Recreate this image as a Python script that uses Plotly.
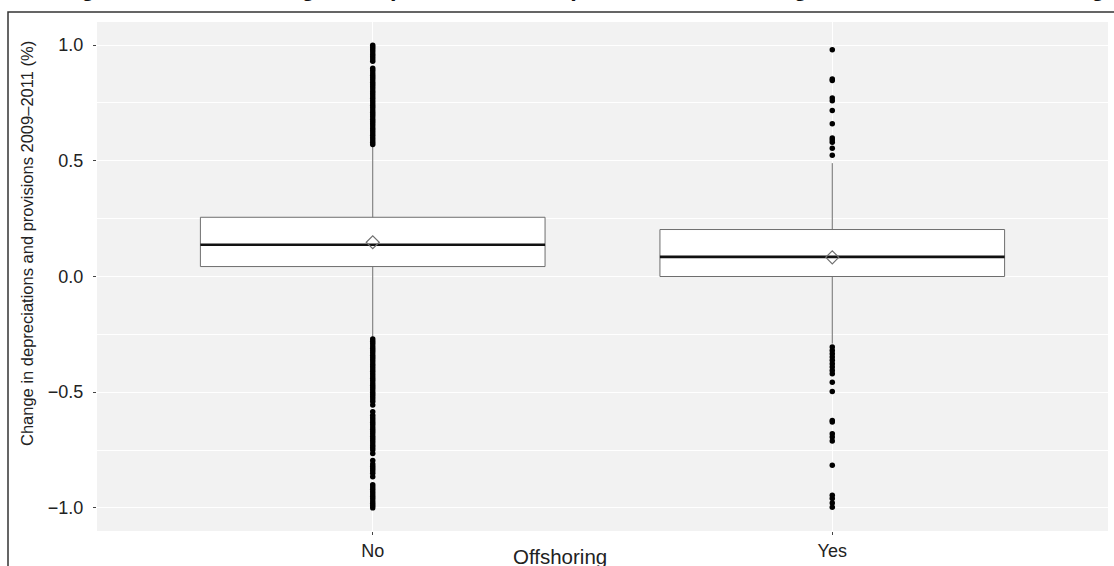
import plotly.graph_objects as go

# ---------------- data ----------------
categories = ["No", "Yes"]
positions = [1, 2]

q1_vals = [0.043, 0.000]
median_vals = [0.137, 0.085]
q3_vals = [0.256, 0.203]
lower_fence = [-0.265, -0.290]
upper_fence = [0.565, 0.490]
mean_vals = [0.148, 0.083]

no_outliers = [
    0.57, 0.58, 0.59, 0.60, 0.61, 0.62, 0.63, 0.64, 0.65, 0.66, 0.67, 0.68,
    0.69, 0.70, 0.71, 0.72, 0.73, 0.74, 0.75, 0.76, 0.77, 0.78, 0.79, 0.80,
    0.81, 0.82, 0.83, 0.84, 0.85, 0.86, 0.87, 0.88, 0.89, 0.90,
    0.93, 0.94, 0.95, 0.96, 0.97, 0.98, 0.99, 1.00,
    -0.27, -0.28, -0.29, -0.30, -0.31, -0.32, -0.33, -0.34, -0.35, -0.36,
    -0.37, -0.38, -0.39, -0.40, -0.41, -0.42, -0.43, -0.44, -0.45, -0.46,
    -0.47, -0.48, -0.49, -0.50, -0.51, -0.52, -0.53, -0.54, -0.555,
    -0.585, -0.60, -0.61, -0.62, -0.63, -0.64, -0.65, -0.66, -0.67, -0.68,
    -0.69, -0.70, -0.71, -0.72, -0.73, -0.74, -0.75, -0.765,
    -0.795, -0.81, -0.82, -0.83, -0.84, -0.85, -0.865,
    -0.90, -0.91, -0.92, -0.93, -0.94, -0.95, -0.96, -0.97, -0.98, -0.99, -1.00,
]

yes_outliers = [
    0.98, 0.854, 0.847, 0.772, 0.760, 0.717, 0.660, 0.599, 0.590, 0.580,
    0.554, 0.524,
    -0.305, -0.320, -0.334, -0.348, -0.362, -0.377, -0.391, -0.406, -0.420,
    -0.457, -0.497, -0.622, -0.629, -0.680, -0.694, -0.711, -0.816,
    -0.946, -0.960, -0.979, -0.997,
]

y_tickvals = [-1.0, -0.5, 0.0, 0.5, 1.0]
y_ticktext = ["\u22121.0", "\u22120.5", "0.0", "0.5", "1.0"]
y_minor = [-0.75, -0.25, 0.25, 0.75]

title_text = ("Figure 4.2: Total change in depreciations and provisions "
              "according to the status of offshoring")
x_title = "Offshoring"
y_title = "Change in depreciations and provisions 2009\u20132011 (%)"

# ---------------- styles ----------------
BOX_WIDTH = 0.75
FONT = "Liberation Sans, Arial, sans-serif"
W, H = 1114, 566
ML, MR, MT, MB = 97, 6, 22, 35
PW = W - ML - MR
PH = H - MT - MB


def px_x(p):
    return (p - ML) / PW


def px_y(p):
    return (H - MB - p) / PH


fig = go.Figure()

for pos, a, m, b, lo, hi in zip(positions, q1_vals, median_vals, q3_vals,
                                lower_fence, upper_fence):
    fig.add_trace(go.Box(
        x=[pos], q1=[a], median=[m], q3=[b], lowerfence=[lo], upperfence=[hi],
        width=BOX_WIDTH, whiskerwidth=0, boxpoints=False,
        fillcolor="white", line=dict(color="#6e6e6e", width=1),
        showlegend=False, hoverinfo="skip",
    ))
    # thick median
    fig.add_trace(go.Scatter(
        x=[pos - BOX_WIDTH / 2, pos + BOX_WIDTH / 2], y=[m, m],
        mode="lines", line=dict(color="#111111", width=2.6),
        showlegend=False, hoverinfo="skip",
    ))

# outliers
for pos, outs in zip(positions, [no_outliers, yes_outliers]):
    fig.add_trace(go.Scatter(
        x=[pos] * len(outs), y=outs, mode="markers",
        marker=dict(color="black", size=5.5, line=dict(width=0)),
        showlegend=False, hoverinfo="skip",
    ))

# means
fig.add_trace(go.Scatter(
    x=positions, y=mean_vals, mode="markers",
    marker=dict(symbol="diamond-open", size=10, color="#707070",
                line=dict(width=1.2)),
    showlegend=False, hoverinfo="skip",
))

fig.update_layout(
    width=W, height=H,
    margin=dict(l=ML, r=MR, t=MT, b=MB, pad=0),
    paper_bgcolor="white", plot_bgcolor="#F2F2F2",
    font=dict(family=FONT, size=18, color="#222222"),
    xaxis=dict(
        range=[0.4, 2.6], tickvals=positions, ticktext=categories,
        showgrid=True, gridcolor="white", gridwidth=1.2, zeroline=False,
        ticks="outside", ticklen=3, tickcolor="#444444", tickwidth=1,
        showline=False, tickfont=dict(size=18, color="#222222"),
    ),
    yaxis=dict(
        range=[-1.1, 1.1], tickvals=y_tickvals, ticktext=y_ticktext,
        showgrid=True, gridcolor="white", gridwidth=1.2, zeroline=False,
        ticks="outside", ticklen=3, tickcolor="#444444", tickwidth=1,
        ticklabelstandoff=6,
        minor=dict(tickvals=y_minor, showgrid=True, gridcolor="white",
                   gridwidth=0.6, ticks=""),
        showline=False, tickfont=dict(size=18, color="#222222"),
    ),
    annotations=[
        dict(text=x_title, xref="paper", yref="paper",
             x=px_x(560), y=px_y(570), xanchor="center", yanchor="bottom",
             showarrow=False, font=dict(size=20.5, color="#222222")),
        dict(text=y_title, xref="paper", yref="paper",
             x=px_x(27), y=px_y(244), xanchor="center", yanchor="middle",
             textangle=-90, showarrow=False,
             font=dict(size=16.5, color="#222222")),
        dict(text="<b>" + title_text + "</b>", xref="paper", yref="paper",
             x=px_x(582), y=px_y(3), xanchor="center", yanchor="bottom",
             showarrow=False, font=dict(size=23.5, color="#111111")),
    ],
    shapes=[
        dict(type="rect", xref="paper", yref="paper",
             x0=px_x(8), x1=px_x(1130), y0=px_y(590), y1=px_y(12),
             line=dict(color="#333333", width=1.5), fillcolor="rgba(0,0,0,0)",
             layer="above"),
    ],
)

fig.write_html("out.html")
